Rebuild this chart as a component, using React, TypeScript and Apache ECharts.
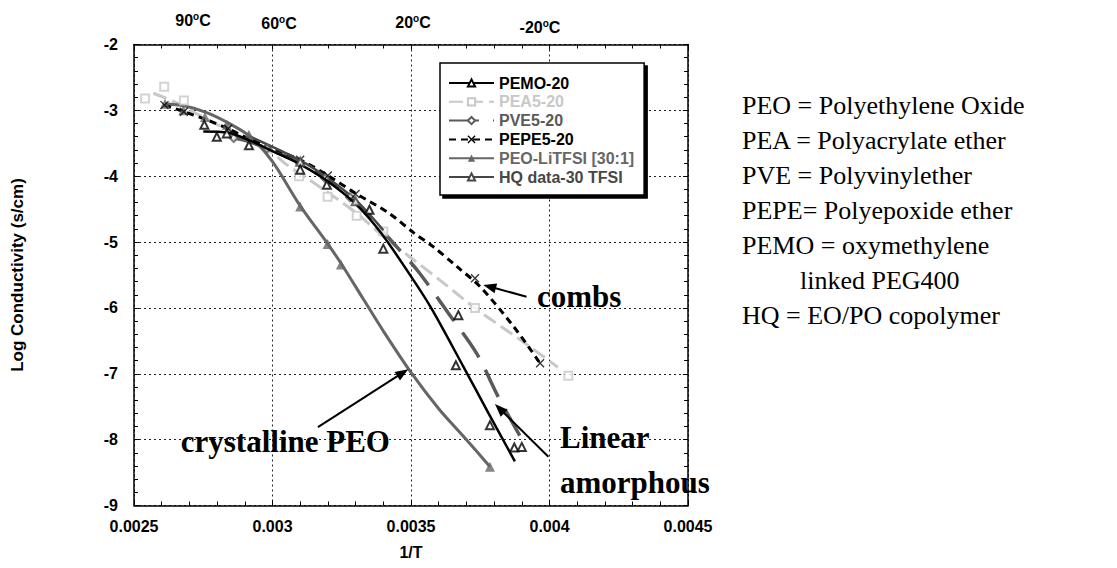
import React, { useEffect, useRef } from 'react';
import * as echarts from 'echarts';

// ---- axis ticks ----
const xTicks = [0.0025, 0.003, 0.0035, 0.004, 0.0045];
const yTicks = [-9, -8, -7, -6, -5, -4, -3, -2];

// ---- series names ----
const names = ['PEMO-20', 'PEA5-20', 'PVE5-20', 'PEPE5-20', 'PEO-LiTFSI [30:1]', 'HQ data-30 TFSI'];

// ---- curves (1/T, log conductivity) ----
const pemoCurve = [[0.00275, -3.32], [0.00284, -3.34], [0.00292, -3.46], [0.0030, -3.62], [0.0031, -3.82], [0.0032, -4.08], [0.0033, -4.42], [0.00339, -4.85], [0.003484, -5.42], [0.00357, -5.98], [0.003689, -6.89], [0.00378, -7.6], [0.003875, -8.33]];
const pemoPts = [[0.002754, -3.22], [0.002799, -3.4], [0.002835, -3.35], [0.002915, -3.53], [0.0031, -3.9], [0.003196, -4.13], [0.00335, -4.51], [0.0034, -5.1], [0.003671, -6.11], [0.003662, -6.87], [0.003785, -7.78], [0.003873, -8.12], [0.0039, -8.11]];

const peaCurve = [[0.00257, -2.74], [0.00265, -2.88], [0.00273, -3.06], [0.00283, -3.28], [0.0029, -3.42], [0.003, -3.65], [0.00305, -3.82], [0.00312, -4.02], [0.00317, -4.16], [0.0033, -4.55], [0.00341, -4.95], [0.00351, -5.27], [0.00362, -5.63], [0.00374, -6.03], [0.00389, -6.47], [0.00403, -6.9]];
const peaPts = [[0.00254, -2.82], [0.002609, -2.64], [0.00268, -2.85], [0.003096, -4.0], [0.003199, -4.31], [0.003304, -4.6], [0.0034, -4.84], [0.003731, -6.0], [0.004068, -7.03]];

const pveCurve = [[0.00286, -3.42], [0.00292, -3.48], [0.0031, -3.8], [0.0032, -4.05], [0.0033, -4.4], [0.00339, -4.8], [0.003448, -5.07], [0.003527, -5.45], [0.003635, -6.08], [0.003737, -6.69], [0.003815, -7.35], [0.003894, -7.95]];
const pvePts = [[0.00286, -3.42], [0.00298, -3.58], [0.0031, -3.81], [0.00319, -4.03], [0.00328, -4.32]];

const pepeCurve = [[0.00261, -2.92], [0.00268, -3.02], [0.00276, -3.14], [0.00284, -3.28], [0.00292, -3.44], [0.0031, -3.75], [0.0032, -3.99], [0.0033, -4.26], [0.00342, -4.56], [0.00351, -4.86], [0.00358, -5.07], [0.003665, -5.37], [0.00375, -5.68], [0.00387, -6.28], [0.003966, -6.84]];
const pepePts = [[0.00261, -2.92], [0.00268, -3.02], [0.00284, -3.28], [0.0031, -3.75], [0.0032, -3.99], [0.0033, -4.27], [0.003731, -5.55], [0.003966, -6.84]];

const peoCurve = [[0.00261, -2.9], [0.00268, -2.93], [0.00276, -3.03], [0.00284, -3.19], [0.00292, -3.4], [0.003, -3.78], [0.0031, -4.45], [0.0032, -5.03], [0.00325, -5.34], [0.00333, -5.88], [0.0034, -6.35], [0.0035, -6.98], [0.0036, -7.53], [0.0037, -8.0], [0.003785, -8.41]];
const peoPts = [[0.002612, -2.9], [0.002678, -3.0], [0.002756, -3.1], [0.002835, -3.22], [0.002915, -3.37], [0.0031, -4.46], [0.003199, -5.03], [0.003247, -5.34], [0.003785, -8.41]];

const hqCurve = [[0.00292, -3.4], [0.0031, -3.76], [0.0032, -4.03], [0.0033, -4.36], [0.0034, -4.82]];
const hqPts = [[0.0031, -3.78], [0.0033, -4.38]];

// ---- annotation arrows [tail, tip] ----
const combsArrow = [[0.003917, -5.83], [0.003761, -5.65]];
const crystallineArrow = [[0.003164, -7.81], [0.00349, -6.93]];
const linearArrow = [[0.003996, -8.26], [0.003803, -7.46]];

// ---- texts ----
const tempLabels = ['90', '60', '20', '-20'];
const glossary = ['PEO = Polyethylene Oxide', 'PEA = Polyacrylate ether', 'PVE = Polyvinylether', 'PEPE= Polyepoxide ether', 'PEMO = oxymethylene', 'linked PEG400', 'HQ = EO/PO copolymer'];

const SANS = "'Liberation Sans', Arial, Helvetica, sans-serif";
const SERIF = "'Liberation Serif', 'Times New Roman', serif";

const colors = ['#000000', '#c8c8c8', '#5a5a5a', '#000000', '#666666', '#474747'];
const widths = [2.5, 3, 3.5, 3, 3, 2.5];
const dashes: any[] = ['solid', [14, 6], [30, 14], [7, 5], 'solid', 'solid'];
const XPATH = 'path://M0 0L10 10M10 0L0 10';
const symbols = ['emptyTriangle', 'emptyRect', 'emptyDiamond', XPATH, 'triangle', 'emptyTriangle'];
const curves = [pemoCurve, peaCurve, pveCurve, pepeCurve, peoCurve, hqCurve];
const points = [pemoPts, peaPts, pvePts, pepePts, peoPts, hqPts];
const zs = [6, 3, 4, 5, 4, 5];

function fmt(v: number) {
  return String(+v.toFixed(5));
}

export default function App() {
  const ref = useRef<HTMLDivElement>(null);
  useEffect(() => {
    document.body.style.margin = '0';
    const chart = echarts.init(ref.current!, null, { renderer: 'svg' });

    const series: any[] = [];
    names.forEach((n, i) => {
      const isX = symbols[i] === XPATH;
      series.push({
        type: 'line',
        name: n,
        data: curves[i],
        smooth: 0.3,
        showSymbol: false,
        symbol: symbols[i],
        symbolSize: 8,
        z: zs[i],
        lineStyle: { color: colors[i], width: widths[i], type: dashes[i] },
        itemStyle: isX ? { color: colors[i], borderColor: colors[i], borderWidth: 1.3 } : { color: colors[i] },
        emphasis: { disabled: true },
      });
      series.push({
        type: 'scatter',
        name: n + ' data',
        data: points[i],
        symbol: symbols[i],
        symbolSize: i === 4 ? 10 : 8,
        z: zs[i] + 1,
        itemStyle: isX
          ? { color: 'rgba(0,0,0,0)', borderColor: colors[i], borderWidth: 1.3 }
          : { color: colors[i], borderWidth: 1.2 },
        emphasis: { disabled: true },
      });
    });

    const tempX = [193, 279, 413, 540];
    const tempY = [20, 23, 22, 27];
    const glossX = [742, 742, 742, 742, 742, 800, 742];

    const baseGraphic: any[] = [];
    tempLabels.forEach((t, i) => {
      baseGraphic.push({
        type: 'text',
        x: tempX[i],
        y: tempY[i],
        style: {
          text: t + '{s|o}C',
          fontFamily: SANS,
          fontWeight: 'bold',
          fontSize: 16,
          fill: '#000',
          align: 'center',
          verticalAlign: 'middle',
          rich: { s: { fontSize: 10, fontWeight: 'bold', fontFamily: SANS, verticalAlign: 'top', padding: [0, 0, 8, 0] } },
        },
      });
    });
    glossary.forEach((t, i) => {
      baseGraphic.push({
        type: 'text',
        x: glossX[i],
        y: 105 + i * 35,
        style: { text: t, fontFamily: SERIF, fontSize: 26, fill: '#000', verticalAlign: 'middle' },
      });
    });
    const ann = [
      { t: 'combs', x: 537, y: 296, a: 'left' },
      { t: 'crystalline PEO', x: 390, y: 441, a: 'right' },
      { t: 'Linear', x: 560, y: 437, a: 'left' },
      { t: 'amorphous', x: 560, y: 482, a: 'left' },
    ];
    ann.forEach((o) => {
      baseGraphic.push({
        type: 'text',
        x: o.x,
        y: o.y,
        z: 20,
        style: { text: o.t, fontFamily: SERIF, fontWeight: 'bold', fontSize: 31, fill: '#000', align: o.a, verticalAlign: 'middle' },
      });
    });

    const axisCommon = {
      type: 'value',
      axisLine: { show: true, onZero: false, lineStyle: { color: '#000', width: 1.5 } },
      axisTick: { show: true, inside: true, length: 5, lineStyle: { color: '#000', width: 1 } },
      minorTick: { show: true, splitNumber: 5, length: 4, lineStyle: { color: '#000', width: 1 } },
    };

    chart.setOption({
      animation: false,
      grid: { left: 134, right: 429, top: 44.5, bottom: 62.5, containLabel: false },
      legend: {
        orient: 'vertical',
        left: 440,
        top: 63,
        padding: [12, 10, 10, 8],
        itemWidth: 45,
        itemHeight: 9,
        itemGap: 2.8,
        backgroundColor: '#fff',
        borderColor: '#000',
        borderWidth: 1.5,
        shadowColor: '#000',
        shadowOffsetX: 3,
        shadowOffsetY: 3,
        shadowBlur: 0,
        selectedMode: false,
        textStyle: { fontFamily: SANS, fontWeight: 'bold', fontSize: 16 },
        data: names.map((n, i) => ({
          name: n,
          textStyle: { color: colors[i] },
          itemStyle: symbols[i] === XPATH ? { color: 'rgba(0,0,0,0)', borderColor: colors[i], borderWidth: 1.3 } : undefined,
        })),
      },
      xAxis: [
        {
          ...axisCommon,
          position: 'bottom',
          min: xTicks[0],
          max: xTicks[xTicks.length - 1],
          interval: 0.0005,
          name: '1/T',
          nameLocation: 'middle',
          nameGap: 39,
          nameTextStyle: { fontFamily: SANS, fontWeight: 'bold', fontSize: 16, color: '#000' },
          axisLabel: { formatter: fmt, margin: 13, fontFamily: SANS, fontWeight: 'bold', fontSize: 16, color: '#000' },
          splitLine: { show: true, lineStyle: { color: '#222', width: 1, type: [2, 3] } },
        },
        {
          ...axisCommon,
          position: 'top',
          min: xTicks[0],
          max: xTicks[xTicks.length - 1],
          interval: 0.0005,
          axisLabel: { show: false },
          splitLine: { show: false },
        },
      ],
      yAxis: [
        {
          ...axisCommon,
          position: 'left',
          min: yTicks[0],
          max: yTicks[yTicks.length - 1],
          interval: 1,
          name: 'Log Conductivity (s/cm)',
          nameLocation: 'middle',
          nameRotate: 90,
          nameGap: 108,
          nameTextStyle: { fontFamily: SANS, fontWeight: 'bold', fontSize: 17, color: '#000' },
          axisLabel: { margin: 16, fontFamily: SANS, fontWeight: 'bold', fontSize: 16, color: '#000' },
          splitLine: { show: true, lineStyle: { color: '#222', width: 1, type: [2, 3] } },
        },
        {
          ...axisCommon,
          position: 'right',
          min: yTicks[0],
          max: yTicks[yTicks.length - 1],
          interval: 1,
          axisLabel: { show: false },
          splitLine: { show: false },
        },
      ],
      series,
      graphic: baseGraphic,
    });

    // arrows placed through the chart's own coordinate conversion
    const arrowGraphic: any[] = [];
    [combsArrow, crystallineArrow, linearArrow].forEach((a) => {
      const p0 = chart.convertToPixel({ gridIndex: 0 }, a[0]) as number[];
      const p1 = chart.convertToPixel({ gridIndex: 0 }, a[1]) as number[];
      const dx = p1[0] - p0[0];
      const dy = p1[1] - p0[1];
      const len = Math.sqrt(dx * dx + dy * dy);
      const ux = dx / len;
      const uy = dy / len;
      const hl = 13;
      const hw = 5;
      const bx = p1[0] - ux * hl;
      const by = p1[1] - uy * hl;
      arrowGraphic.push({
        type: 'line',
        z: 15,
        shape: { x1: p0[0], y1: p0[1], x2: bx + ux * 2, y2: by + uy * 2 },
        style: { stroke: '#000', lineWidth: 2 },
      });
      arrowGraphic.push({
        type: 'polygon',
        z: 15,
        shape: { points: [[p1[0], p1[1]], [bx - uy * hw, by + ux * hw], [bx + uy * hw, by - ux * hw]] },
        style: { fill: '#000' },
      });
    });
    chart.setOption({ graphic: baseGraphic.concat(arrowGraphic) });

    return () => chart.dispose();
  }, []);
  return <div ref={ref} style={{ width: 1117, height: 568 }} />;
}
